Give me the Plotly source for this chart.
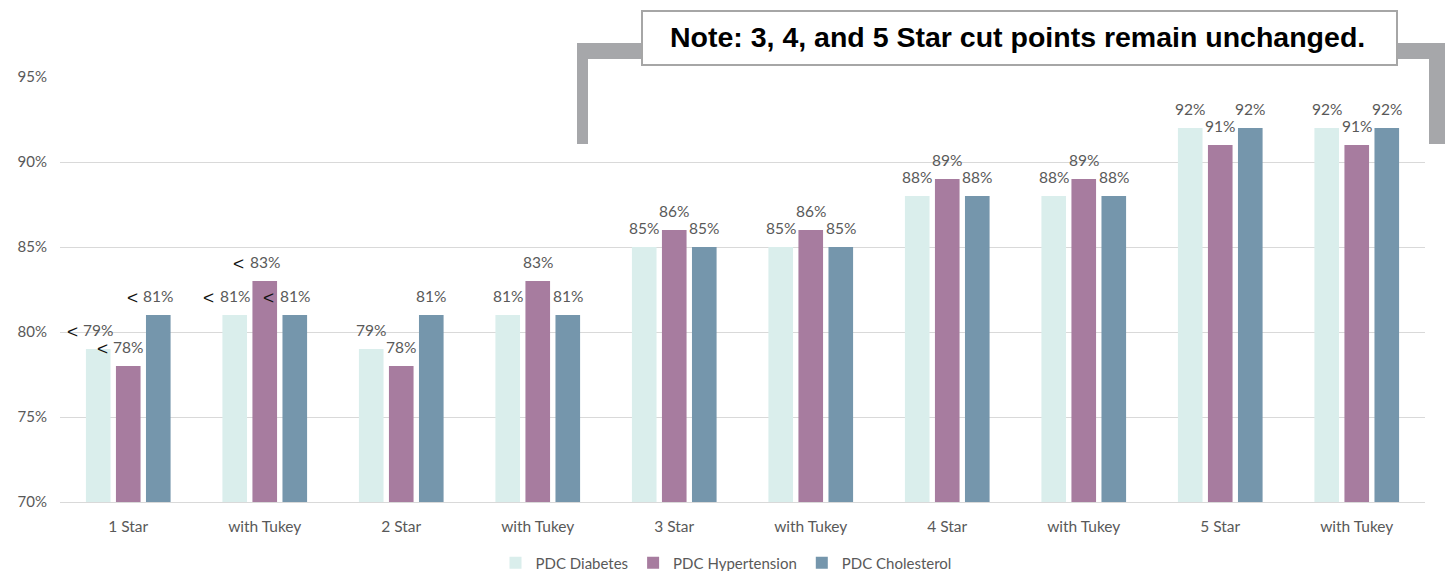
import plotly.graph_objects as go

# ---- data ----
tick_labels = ["1 Star", "with Tukey", "2 Star", "with Tukey", "3 Star",
               "with Tukey", "4 Star", "with Tukey", "5 Star", "with Tukey"]
series_names = ["PDC Diabetes", "PDC Hypertension", "PDC Cholesterol"]
pdc_diabetes = [79, 81, 79, 81, 85, 85, 88, 88, 92, 92]
pdc_hypertension = [78, 83, 78, 83, 86, 86, 89, 89, 91, 91]
pdc_cholesterol = [81, 81, 81, 81, 85, 85, 88, 88, 92, 92]
less_than_idx = [0, 1]          # groups whose labels carry a "<" marker
y_ticks = [70, 75, 80, 85, 90, 95]
y_tick_text = ["70%", "75%", "80%", "85%", "90%", "95%"]
note_text = "Note: 3, 4, and 5 Star cut points remain unchanged."

# ---- style ----
colors = ["#daeeec", "#a77c9f", "#7596ac"]
W, H = 1445, 571
ML, MR, MT, MB = 60, 20, 77, 69
BARGAP, BARGROUPGAP = 0.34, 0.18
FONT = "Lato, 'Open Sans', sans-serif"
TXT = "#595959"

x = list(range(len(tick_labels)))
series = [pdc_diabetes, pdc_hypertension, pdc_cholesterol]

fig = go.Figure()
for name, vals, c in zip(series_names, series, colors):
    fig.add_trace(go.Bar(x=x, y=vals, name=name, marker=dict(color=c, line=dict(width=0))))

# pixel helpers derived from layout
plot_w = W - ML - MR
plot_h = H - MT - MB
cat_w = plot_w / len(tick_labels)
slot = cat_w * (1 - BARGAP) / len(series)

def px_to_paper_x(p):
    return (p - ML) / plot_w

def px_to_paper_y(p):
    return (H - MB - p) / plot_h

annotations = []
for si, vals in enumerate(series):
    shift = (si - 1) * slot
    for i, v in enumerate(vals):
        annotations.append(dict(x=x[i], y=v, xref="x", yref="y", text=f"{v}%",
                                showarrow=False, xshift=shift, yshift=19,
                                font=dict(family=FONT, size=15.5, color=TXT)))
        if i in less_than_idx:
            annotations.append(dict(x=x[i], y=v, xref="x", yref="y", text="&lt;",
                                    showarrow=False, xshift=shift - 26, yshift=18,
                                    font=dict(family="Liberation Sans, Arial", size=19, color="#111111")))

annotations.append(dict(x=px_to_paper_x(1018), y=px_to_paper_y(37), xref="paper", yref="paper",
                        text=f"<b>{note_text}</b>", showarrow=False, xanchor="center", yanchor="middle",
                        font=dict(family="Liberation Sans, Arial", size=28.5, color="#000000")))

gray = "#a6a7aa"
shapes = []
def rect(x0, y0, x1, y1, fill, line_color=None, lw=0):
    shapes.append(dict(type="rect", xref="paper", yref="paper",
                       x0=px_to_paper_x(x0), x1=px_to_paper_x(x1),
                       y0=px_to_paper_y(y0), y1=px_to_paper_y(y1),
                       fillcolor=fill, line=dict(color=line_color or fill, width=lw), layer="above"))

rect(577, 43, 588, 144, gray)
rect(577, 43, 645, 59, gray)
rect(1394, 43, 1445, 59, gray)
rect(1429, 43, 1445, 144, gray)
rect(642, 11, 1397, 65, "#ffffff", "#a6a6a6", 2)

fig.update_layout(
    width=W, height=H,
    margin=dict(l=ML, r=MR, t=MT, b=MB, autoexpand=False),
    plot_bgcolor="white", paper_bgcolor="white",
    barmode="group", bargap=BARGAP, bargroupgap=BARGROUPGAP,
    font=dict(family=FONT, size=15, color=TXT),
    xaxis=dict(tickmode="array", tickvals=x, ticktext=tick_labels, range=[-0.5, len(x) - 0.5],
               showgrid=False, zeroline=False, showline=True, linecolor="#d9d9d9", ticks="",
               automargin=False,
               tickfont=dict(family=FONT, size=15.5, color=TXT), ticklabelstandoff=10),
    yaxis=dict(range=[70, 95], tickmode="array", tickvals=y_ticks, ticktext=y_tick_text, showgrid=True,
               gridcolor="#d9d9d9", gridwidth=1, zeroline=False, showline=False, ticks="",
               automargin=False,
               tickfont=dict(family=FONT, size=15, color=TXT), ticklabelstandoff=12),
    legend=dict(orientation="h", x=px_to_paper_x(726), xanchor="center",
                y=px_to_paper_y(563), yanchor="middle",
                font=dict(family=FONT, size=15, color=TXT), itemwidth=30),
    annotations=annotations, shapes=shapes,
)

fig.write_html("out.html")
